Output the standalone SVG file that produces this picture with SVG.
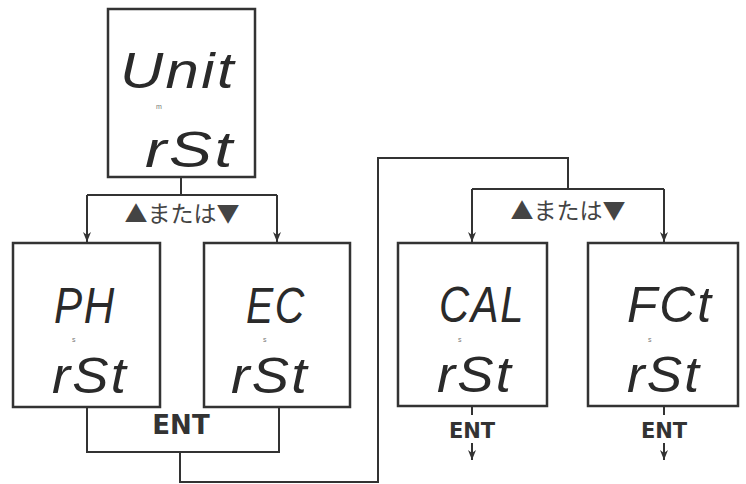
<svg xmlns="http://www.w3.org/2000/svg" width="746" height="484" viewBox="0 0 746 484">
<defs>
<marker id="arr" viewBox="0 0 10 8" refX="10" refY="4" markerWidth="10" markerHeight="8" markerUnits="userSpaceOnUse" orient="auto">
<path d="M0,0 L10,4 L0,8 L3,4 Z" fill="#333"/>
</marker>
<style>
.box{fill:#fff;stroke:#333;stroke-width:2.5}
.ln{fill:none;stroke:#333;stroke-width:2}
.lcd{font-family:"Liberation Sans",Arial,sans-serif;font-style:italic;font-size:50px;fill:#2a2a2a;letter-spacing:2px}
.tiny{font-family:"Liberation Sans",Arial,sans-serif;font-size:7px;fill:#777}
.sel{font-family:"Noto Sans CJK JP","Noto Sans",sans-serif;font-size:23px;fill:#444}
.ent{font-family:"DejaVu Sans",sans-serif;font-weight:bold;fill:#333}
</style>
</defs>
<rect width="746" height="484" fill="#fff"/>
<g id="connectors">
<path class="ln" d="M181,177 V195"/>
<path class="ln" d="M87,195 H277"/>
<path class="ln" d="M87,195 V242" marker-end="url(#arr)"/>
<path class="ln" d="M277,195 V242" marker-end="url(#arr)"/>
<path class="ln" d="M87,407 V452 H279 V407"/>
<path class="ln" d="M180,452 V482 H378 V158 H568 V189"/>
<path class="ln" d="M472,189 H664"/>
<path class="ln" d="M472,189 V242" marker-end="url(#arr)"/>
<path class="ln" d="M664,189 V242" marker-end="url(#arr)"/>
<path class="ln" d="M472,406 V415" stroke-width="1.5"/>
<path class="ln" d="M472,443 V460" stroke-width="1.5" marker-end="url(#arr)"/>
<path class="ln" d="M664,406 V415" stroke-width="1.5"/>
<path class="ln" d="M664,443 V460" stroke-width="1.5" marker-end="url(#arr)"/>
<text class="sel" x="182" y="222" text-anchor="middle">▲または▼</text>
<text class="sel" x="568" y="219" text-anchor="middle">▲または▼</text>
<text class="ent" x="181" y="434" font-size="26" text-anchor="middle">ENT</text>
<text class="ent" x="472" y="438" font-size="21" text-anchor="middle">ENT</text>
<text class="ent" x="664" y="438" font-size="21" text-anchor="middle">ENT</text>
</g>
<g id="node-unit">
<rect class="box" x="108" y="9" width="147" height="168"/>
<text class="lcd" x="120" y="88" textLength="116" lengthAdjust="spacingAndGlyphs">Unit</text>
<text class="tiny" x="156" y="109">m</text>
<text class="lcd" x="145" y="167" textLength="90" lengthAdjust="spacingAndGlyphs">rSt</text>
</g>
<g id="node-ph">
<rect class="box" x="13" y="243" width="147" height="164"/>
<text class="lcd" x="54" y="323" textLength="62" lengthAdjust="spacingAndGlyphs">PH</text>
<text class="tiny" x="72" y="342">s</text>
<text class="lcd" x="52" y="393" textLength="76" lengthAdjust="spacingAndGlyphs">rSt</text>
</g>
<g id="node-ec">
<rect class="box" x="204" y="243" width="146" height="164"/>
<text class="lcd" x="246" y="323" textLength="60" lengthAdjust="spacingAndGlyphs">EC</text>
<text class="tiny" x="263" y="342">s</text>
<text class="lcd" x="231" y="393" textLength="78" lengthAdjust="spacingAndGlyphs">rSt</text>
</g>
<g id="node-cal">
<rect class="box" x="398" y="243" width="149" height="163"/>
<text class="lcd" x="439" y="322" textLength="86" lengthAdjust="spacingAndGlyphs">CAL</text>
<text class="tiny" x="458" y="342">s</text>
<text class="lcd" x="437" y="392" textLength="76" lengthAdjust="spacingAndGlyphs">rSt</text>
</g>
<g id="node-fct">
<rect class="box" x="588" y="243" width="150" height="163"/>
<text class="lcd" x="627" y="322" textLength="86" lengthAdjust="spacingAndGlyphs">FCt</text>
<text class="tiny" x="648" y="342">s</text>
<text class="lcd" x="627" y="392" textLength="74" lengthAdjust="spacingAndGlyphs">rSt</text>
</g>
</svg>
